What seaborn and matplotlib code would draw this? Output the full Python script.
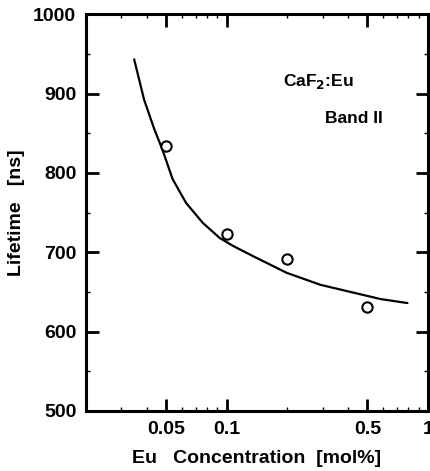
import matplotlib
matplotlib.use("Agg")
import matplotlib.pyplot as plt
import matplotlib.ticker as mticker
import seaborn as sns
import pandas as pd

# measured points
conc = [0.05, 0.1, 0.2, 0.5]
lifetime = [834, 723, 692, 631]

# fitted curve
curve_conc = [0.0347, 0.0389, 0.0437, 0.0480, 0.0539, 0.0629, 0.0761, 0.0923,
              0.1075, 0.1354, 0.199, 0.292, 0.428, 0.582, 0.791]
curve_life = [943, 892, 855, 829, 792, 762, 737, 718,
              708, 695, 674, 659, 649, 641, 636]

xticks = [0.05, 0.1, 0.5, 1]
xticklabels = ["0.05", "0.1", "0.5", "1"]
yticks = [500, 600, 700, 800, 900, 1000]

sns.set_style("ticks")
plt.rcParams['font.family'] = ['Liberation Sans', 'DejaVu Sans']
plt.rcParams['font.weight'] = 'bold'
plt.rcParams['text.color'] = 'black'
plt.rcParams['axes.labelcolor'] = 'black'
plt.rcParams['xtick.color'] = 'black'
plt.rcParams['ytick.color'] = 'black'

fig = plt.figure(figsize=(4.31, 4.71), dpi=100)
ax = fig.add_axes([0.1995, 0.1274, 0.7935, 0.8426])

df_pts = pd.DataFrame({"c": conc, "t": lifetime})
df_curve = pd.DataFrame({"c": curve_conc, "t": curve_life})

sns.lineplot(data=df_curve, x="c", y="t", ax=ax, color="black", linewidth=1.6, sort=False)
sns.scatterplot(data=df_pts, x="c", y="t", ax=ax, marker="o", s=55,
                facecolor="white", edgecolor="black", linewidth=1.5, zorder=3)

ax.set_xscale("log")
ax.set_xlim(0.02, 1)
ax.set_ylim(500, 1000)

ax.xaxis.set_major_locator(mticker.FixedLocator(xticks))
ax.xaxis.set_major_formatter(mticker.FixedFormatter(xticklabels))
ax.xaxis.set_minor_locator(mticker.LogLocator(base=10, subs=[1, 2, 3, 4, 5, 6, 7, 8, 9]))
ax.xaxis.set_minor_formatter(mticker.NullFormatter())
ax.set_yticks(yticks)
ax.yaxis.set_minor_locator(mticker.MultipleLocator(50))

ax.tick_params(which="major", direction="in", length=9, width=2, top=True, right=True,
               labelsize=14, pad=7, colors="black")
ax.tick_params(which="minor", direction="in", length=3, width=1, top=True, right=True,
               colors="black")
for lab in ax.get_xticklabels() + ax.get_yticklabels():
    lab.set_fontweight("bold")

for s in ax.spines.values():
    s.set_linewidth(2.2)
    s.set_color("black")

ax.set_xlabel("Eu   Concentration  [mol%]", fontsize=14, fontweight="bold", labelpad=9,
              color="black")
ax.set_ylabel("Lifetime   [ns]", fontsize=14, fontweight="bold", labelpad=6,
              color="black")

ax.text(0.575, 0.83, r"CaF$_\mathbf{2}$:Eu", transform=ax.transAxes, fontsize=12.5,
        fontweight="bold", ha="left", va="center", color="black")
ax.text(0.70, 0.737, "Band II", transform=ax.transAxes, fontsize=12.5,
        fontweight="bold", ha="left", va="center", color="black")

fig.savefig("out.png", dpi=100)
